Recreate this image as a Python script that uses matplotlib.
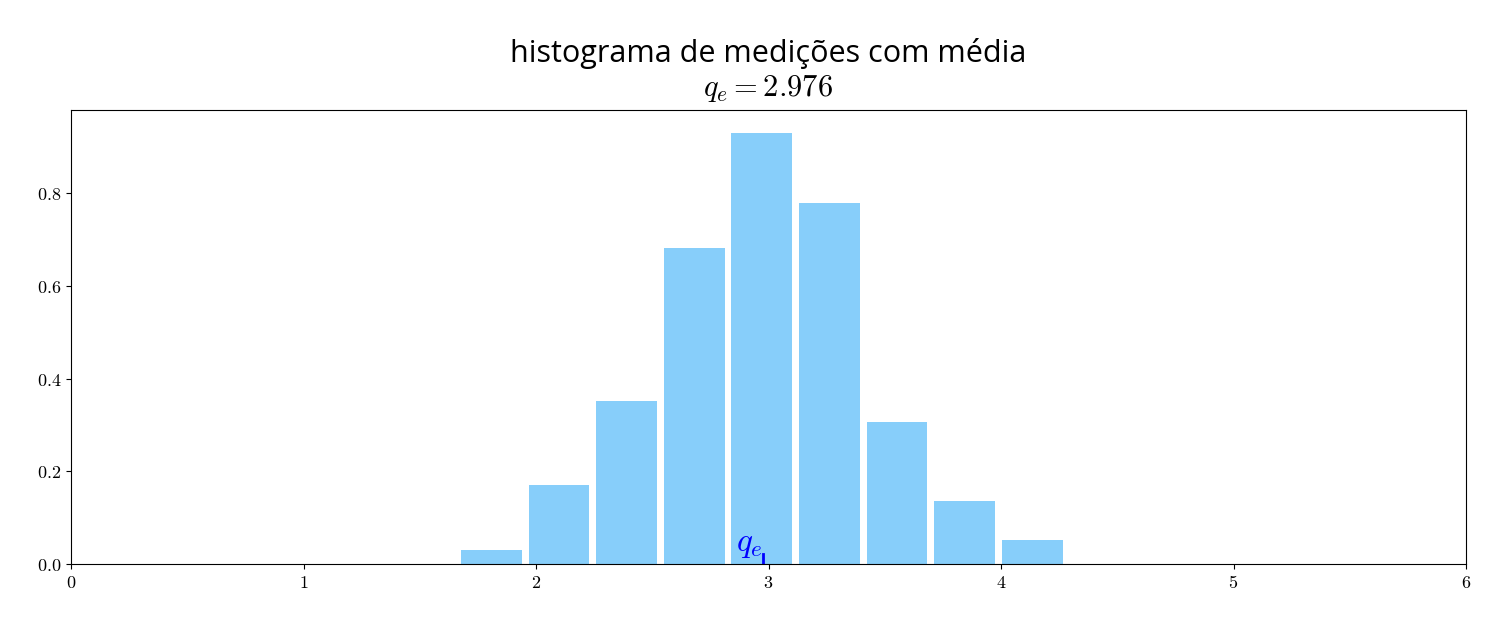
import numpy as np
import matplotlib.pyplot as plt
from matplotlib.ticker import FuncFormatter

plt.rcParams['mathtext.fontset'] = 'cm'

# bin edges and densities
first_edge = 1.663
bin_width = 0.2907
heights = [0.030, 0.170, 0.351, 0.681, 0.929, 0.778, 0.306, 0.136, 0.052]
q_mean = 2.976

edges = first_edge + bin_width * np.arange(len(heights) + 1)
centers = (edges[:-1] + edges[1:]) / 2

fig = plt.figure(figsize=(15.01, 6.29), dpi=100)
ax = fig.add_axes([0.0473, 0.1033, 0.9294, 0.7217])

ax.bar(centers, heights, width=bin_width * 0.9, color="lightskyblue")
ax.plot([q_mean, q_mean], [0, 0.022], color="blue", linewidth=2)
ax.text(q_mean, 0.008, r"$q_e$", color="blue", fontsize=24, ha="right", va="bottom")

ax.set_xlim(0, 6)
ax.set_ylim(0, 0.979)
ax.set_yticks([0.0, 0.2, 0.4, 0.6, 0.8])
ax.xaxis.set_major_formatter(FuncFormatter(lambda v, p: r"$%d$" % v))
ax.yaxis.set_major_formatter(FuncFormatter(lambda v, p: r"$%.1f$" % v))
ax.tick_params(labelsize=13)

ax.set_title("histograma de medições com média\n" + r"$q_e = 2.976$",
             fontsize=22, family="Open Sans", pad=10)

plt.savefig("out.png")
